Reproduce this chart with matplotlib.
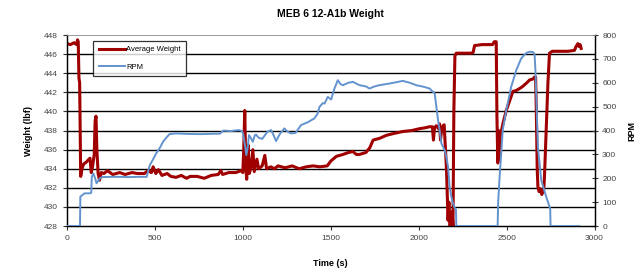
import matplotlib
matplotlib.use("Agg")
import matplotlib.pyplot as plt
import numpy as np

plt.rcParams['font.family'] = ['Liberation Sans', 'DejaVu Sans']

# Average weight (lbf) vs time (s)
weight_t = [0, 20, 40, 55, 60, 64, 68, 72, 78, 85, 95, 110, 125, 131, 138, 145, 155, 160, 165,
            170, 177, 185, 195, 210, 230, 260, 300, 330, 370, 400, 440, 460, 480, 490, 505,
            520, 540, 570, 590, 620, 650, 680, 700, 740, 780, 820, 860, 875, 885, 920, 960,
            990, 1000, 1005, 1011, 1017, 1022, 1030, 1036, 1045, 1057, 1065, 1080, 1090, 1110,
            1125, 1135, 1160, 1180, 1200, 1240, 1280, 1320, 1360, 1400, 1437, 1480, 1500, 1532,
            1570, 1600, 1626, 1645, 1663, 1700, 1722, 1741, 1780, 1816, 1860, 1910, 1960, 2006,
            2040, 2062, 2078, 2084, 2090, 2100, 2112, 2119, 2124, 2130, 2138, 2145, 2158, 2167,
            2172, 2177, 2185, 2190, 2195, 2200, 2206, 2214, 2250, 2300, 2310, 2318, 2360, 2400,
            2420, 2430, 2441, 2445, 2450, 2455, 2458, 2464, 2480, 2498, 2515, 2536, 2555, 2574,
            2590, 2602, 2615, 2631, 2650, 2659, 2665, 2669, 2674, 2678, 2685, 2692, 2700, 2706,
            2712, 2716, 2725, 2735, 2744, 2760, 2800, 2850, 2886, 2895, 2905, 2912, 2918, 2924]
weight = [447.1, 447.0, 447.2, 447.0, 447.5, 447.3, 443.5, 443.0, 433.2, 434.0, 434.5, 434.7,
          435.0, 435.1, 433.6, 434.2, 435.5, 439.0, 439.5, 436.0, 433.5, 432.8, 433.6, 433.5,
          433.8, 433.4, 433.6, 433.4, 433.6, 433.5, 433.5, 433.8, 433.6, 434.2, 433.5, 433.9,
          433.3, 433.5, 433.2, 433.1, 433.3, 433.0, 433.2, 433.2, 433.0, 433.3, 433.4, 433.8,
          433.4, 433.6, 433.6, 433.8, 433.6, 436.0, 440.1, 434.0, 432.9, 436.5, 433.5, 434.0,
          436.0, 433.7, 435.0, 434.0, 434.3, 435.4, 434.0, 434.2, 434.0, 434.3, 434.1, 434.3,
          434.0, 434.2, 434.3, 434.2, 434.3, 434.8, 435.3, 435.5, 435.7, 435.8, 435.5, 435.5,
          435.7, 436.2, 437.0, 437.2, 437.5, 437.7, 437.9, 438.0, 438.2, 438.3, 438.4, 438.4,
          437.0, 438.3, 438.5, 438.2, 438.7, 437.0, 438.0, 438.5, 438.6, 434.0, 428.6, 430.5,
          428.0, 428.2, 429.5, 428.0, 440.0, 445.8, 446.1, 446.1, 446.1, 446.2, 446.9, 447.0,
          447.0, 447.0, 447.3, 447.3, 439.5, 434.6, 438.0, 435.0, 437.4, 438.8, 440.1, 441.0,
          442.1, 442.2, 442.4, 442.6, 442.8, 443.0, 443.3, 443.4, 443.6, 443.6, 440.0, 434.0,
          432.1, 431.6, 431.9, 431.3, 431.6, 432.0, 433.5, 438.1, 443.0, 446.1, 446.3, 446.3,
          446.3, 446.4, 446.8, 447.1, 446.8, 447.0, 446.6]

# RPM vs time (s)
rpm_t = [0, 74, 76, 100, 131, 138, 141, 150, 160, 168, 178, 187, 200, 250, 300, 350, 400, 453,
         471, 490, 508, 530, 546, 565, 583, 620, 680, 760, 800, 870, 889, 932, 977, 995, 1002,
         1012, 1020, 1028, 1035, 1045, 1057, 1068, 1075, 1090, 1110, 1140, 1161, 1175, 1189,
         1210, 1236, 1255, 1274, 1300, 1331, 1370, 1407, 1425, 1436, 1455, 1465, 1483, 1502,
         1521, 1540, 1555, 1569, 1600, 1626, 1663, 1700, 1720, 1750, 1777, 1834, 1870, 1910,
         1950, 1986, 2030, 2062, 2091, 2110, 2119, 2129, 2148, 2157, 2167, 2176, 2186, 2195,
         2205, 2212, 2214, 2449, 2452, 2459, 2468, 2478, 2498, 2526, 2555, 2583, 2612, 2630,
         2650, 2659, 2664, 2669, 2678, 2697, 2710, 2725, 2744, 2748, 2750, 2915]
rpm = [0, 0, 123, 137, 137, 140, 206, 220, 200, 179, 190, 200, 205, 206, 206, 205, 206, 206,
       255, 280, 305, 330, 353, 370, 385, 388, 386, 385, 386, 387, 400, 398, 402, 398, 385,
       340, 297, 330, 381, 370, 353, 380, 383, 370, 365, 395, 402, 380, 356, 385, 409, 395,
       388, 390, 423, 435, 451, 470, 499, 515, 513, 541, 530, 576, 611, 595, 590, 600, 604,
       590, 585, 576, 585, 590, 597, 602, 608, 600, 590, 583, 576, 555, 444, 402, 346, 318,
       290, 250, 164, 123, 95, 75, 70, 0, 0, 100, 192, 290, 402, 485, 583, 653, 702, 725,
       730, 729, 720, 650, 541, 332, 192, 160, 123, 81, 70, 0, 0]

red = '#a00000'
blue = '#6393cf'

fig = plt.figure(figsize=(6.41, 2.76), dpi=100)
ax = fig.add_axes([0.1045, 0.181, 0.823, 0.692])
ax2 = ax.twinx()

l1, = ax.plot(weight_t, weight, color=red, lw=2.2, label='Average Weight', zorder=3)
l2, = ax2.plot(rpm_t, rpm, color=blue, lw=1.4, label='RPM', zorder=3)

ax.set_xlim(0, 3000)
ax.set_ylim(428, 448)
ax2.set_ylim(0, 800)
ax.set_xticks(np.arange(0, 3001, 500))
ax.set_yticks(np.arange(428, 449, 2))
ax2.set_yticks(np.arange(0, 801, 100))

for y in np.arange(430, 447, 2):
    ax.axhline(y, color='black', lw=1.0, zorder=1)

for a in (ax, ax2):
    a.tick_params(labelsize=6, length=3, width=0.8, colors='#333333', labelcolor='#444444')
    for s in a.spines.values():
        s.set_color('black')
        s.set_linewidth(0.9)
    a.spines['top'].set_color('#999999')
    a.spines['top'].set_linewidth(0.6)
ax2.tick_params(direction='inout', length=4)

ax.set_title('MEB 6 12-A1b Weight', fontsize=7.5, fontweight='bold', pad=13)
ax.set_xlabel('Time (s)', fontsize=6.5, fontweight='bold', labelpad=12)
ax.set_ylabel('Weight (lbf)', fontsize=6.5, fontweight='bold', labelpad=8)
ax2.set_ylabel('RPM', fontsize=6.5, fontweight='bold', labelpad=8)

leg = ax2.legend([l1, l2], ['Average Weight', 'RPM'], loc='upper left',
                 bbox_to_anchor=(0.05, 0.97), borderaxespad=0, fontsize=5.5, frameon=True,
                 fancybox=False, edgecolor='black', handlelength=3.5, handletextpad=0.1,
                 labelspacing=1.3, borderpad=0.7)
leg.get_frame().set_linewidth(0.9)
leg.set_zorder(5)

fig.savefig('out.png', dpi=100)
